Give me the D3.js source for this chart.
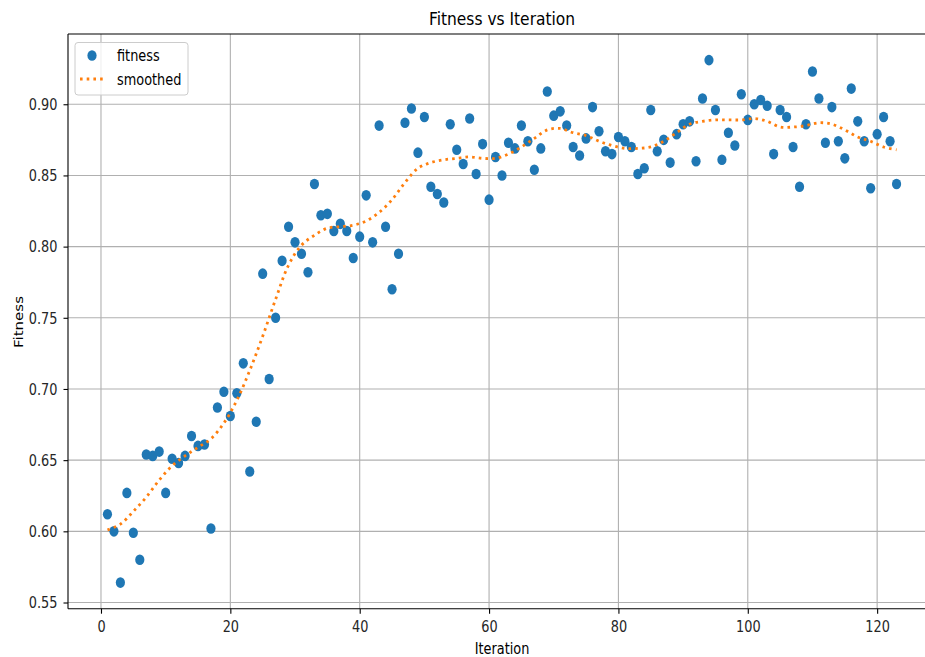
<!DOCTYPE html>
<html>
<head>
<meta charset="utf-8">
<script src="https://cdn.jsdelivr.net/npm/d3@7"></script>
<style>
  body { margin: 0; background: #fff; }
  svg { display: block; font-family: "DejaVu Sans", sans-serif; }
</style>
</head>
<body>
<svg width="925" height="657"></svg>
<script>
// fitness per iteration, iteration = index + 1
const fitness = [
  0.612, 0.600, 0.564, 0.627, 0.599, 0.580, 0.654, 0.653, 0.656, 0.627,
  0.651, 0.648, 0.653, 0.667, 0.660, 0.661, 0.602, 0.687, 0.698, 0.681,
  0.697, 0.718, 0.642, 0.677, 0.781, 0.707, 0.750, 0.790, 0.814, 0.803,
  0.795, 0.782, 0.844, 0.822, 0.823, 0.811, 0.816, 0.811, 0.792, 0.807,
  0.836, 0.803, 0.885, 0.814, 0.770, 0.795, 0.887, 0.897, 0.866, 0.891,
  0.842, 0.837, 0.831, 0.886, 0.868, 0.858, 0.890, 0.851, 0.872, 0.833,
  0.863, 0.850, 0.873, 0.869, 0.885, 0.874, 0.854, 0.869, 0.909, 0.892,
  0.895, 0.885, 0.870, 0.864, 0.876, 0.898, 0.881, 0.867, 0.865, 0.877,
  0.874, 0.870, 0.851, 0.855, 0.896, 0.867, 0.875, 0.859, 0.879, 0.886,
  0.888, 0.860, 0.904, 0.931, 0.896, 0.861, 0.880, 0.871, 0.907, 0.889,
  0.900, 0.903, 0.899, 0.865, 0.896, 0.891, 0.870, 0.842, 0.886, 0.923,
  0.904, 0.873, 0.898, 0.874, 0.862, 0.911, 0.888, 0.874, 0.841, 0.879,
  0.891, 0.874, 0.844
];

// smoothed curve, sampled at odd iterations
const smoothIter = [
  1, 3, 5, 7, 9, 11, 13, 15, 17, 19, 21, 23, 25, 27, 29, 31, 33, 35, 37, 39,
  41, 43, 45, 47, 49, 51, 53, 55, 57, 59, 61, 63, 65, 67, 69, 71, 73, 75, 77, 79,
  81, 83, 85, 87, 89, 91, 93, 95, 97, 99, 101, 103, 105, 107, 109, 111, 113, 115,
  117, 119, 121, 123
];
const smoothVals = [
  0.601, 0.605, 0.614, 0.624, 0.636, 0.646, 0.653, 0.659, 0.665, 0.676,
  0.692, 0.713, 0.737, 0.763, 0.787, 0.801, 0.808, 0.813, 0.814, 0.815,
  0.818, 0.824, 0.833, 0.845, 0.855, 0.859, 0.861, 0.862, 0.863, 0.862,
  0.862, 0.865, 0.870, 0.876, 0.882, 0.883, 0.880, 0.878, 0.874, 0.871,
  0.869, 0.869, 0.870, 0.874, 0.880, 0.886, 0.888, 0.889, 0.889, 0.889,
  0.890, 0.888, 0.884, 0.884, 0.885, 0.887, 0.886, 0.882, 0.877, 0.874,
  0.870, 0.868
];

const xTicks = [0, 20, 40, 60, 80, 100, 120];
const yTicks = [0.55, 0.60, 0.65, 0.70, 0.75, 0.80, 0.85, 0.90];

const svg = d3.select("svg");
const blue = "#1f77b4", orange = "#ff7f0e";
const sx = 0.86; // picture is squeezed horizontally, text too

const box = { left: 68, right: 936, top: 34, bottom: 608.7 };

const points = fitness.map((v, i) => ({ it: i + 1, v: v }));
const smooth = smoothIter.map((it, i) => ({ it: it, v: smoothVals[i] }));

// matplotlib style 5% margins
const xExt = d3.extent(points, d => d.it);
const yExt = d3.extent(points, d => d.v);
const xPad = (xExt[1] - xExt[0]) * 0.05, yPad = (yExt[1] - yExt[0]) * 0.05;

const x = d3.scaleLinear()
  .domain([xExt[0] - xPad, xExt[1] + xPad])
  .range([box.left, box.right]);
const y = d3.scaleLinear()
  .domain([yExt[0] - yPad, yExt[1] + yPad])
  .range([box.bottom, box.top]);

// grid
const grid = svg.append("g").attr("stroke", "#b0b0b0").attr("stroke-width", 1.1);
grid.selectAll("line.gx").data(xTicks).enter().append("line")
  .attr("x1", d => x(d)).attr("x2", d => x(d))
  .attr("y1", box.top).attr("y2", box.bottom);
grid.selectAll("line.gy").data(yTicks).enter().append("line")
  .attr("x1", box.left).attr("x2", box.right)
  .attr("y1", d => y(d)).attr("y2", d => y(d));

// axes
const xAxis = svg.append("g")
  .attr("transform", `translate(0,${box.bottom})`)
  .call(d3.axisBottom(x).tickValues(xTicks).tickFormat(d3.format("d")).tickSize(5).tickPadding(4));
const yAxis = svg.append("g")
  .attr("transform", `translate(${box.left},0)`)
  .call(d3.axisLeft(y).tickValues(yTicks).tickFormat(d3.format(".2f")).tickSize(4.5).tickPadding(5));

[xAxis, yAxis].forEach(a => {
  a.select(".domain").remove();
  a.selectAll(".tick line").attr("stroke", "#000").attr("stroke-width", 1.1);
  a.selectAll(".tick text")
    .attr("fill", "#262626")
    .style("font-size", "15px")
    .style("font-family", "DejaVu Sans");
});
xAxis.selectAll(".tick text").attr("dy", null).attr("y", 23.5)
  .attr("transform", `scale(${sx},1)`);
yAxis.selectAll(".tick text").attr("dy", null).attr("y", 5.3)
  .attr("x", -10.5 / sx)
  .attr("transform", `scale(${sx},1)`);

// data layers
const plot = svg.append("g");
plot.selectAll("ellipse.pt").data(points).enter().append("ellipse")
  .attr("class", "pt")
  .attr("cx", d => x(d.it)).attr("cy", d => y(d.v))
  .attr("rx", 4.6).attr("ry", 5.3)
  .attr("fill", blue);

const line = d3.line()
  .curve(d3.curveCatmullRom)
  .x(d => x(d.it))
  .y(d => y(d.v));
plot.append("path")
  .datum(smooth)
  .attr("d", line)
  .attr("fill", "none")
  .attr("stroke", orange)
  .attr("stroke-width", 2.8)
  .attr("stroke-dasharray", "2.6,4.1");

// spines: left, bottom, top (right one falls off the canvas)
const spines = svg.append("g").attr("stroke", "#000").attr("stroke-width", 1.1);
spines.append("line").attr("x1", box.left).attr("x2", box.left).attr("y1", box.top).attr("y2", box.bottom);
spines.append("line").attr("x1", box.left).attr("x2", box.right).attr("y1", box.bottom).attr("y2", box.bottom);
spines.append("line").attr("x1", box.left).attr("x2", box.right).attr("y1", box.top).attr("y2", box.top);
spines.append("line").attr("x1", box.right).attr("x2", box.right).attr("y1", box.top).attr("y2", box.bottom);

// text helper with horizontal squeeze
function label(px, py, str, size, rotate) {
  const g = svg.append("g")
    .attr("transform", `translate(${px},${py}) scale(${sx},1)` + (rotate ? " rotate(-90)" : ""));
  return g.append("text")
    .attr("text-anchor", "middle")
    .attr("fill", "#000")
    .style("font-size", size + "px")
    .text(str);
}

const midX = (box.left + box.right) / 2;
label(midX, 25, "Fitness vs Iteration", 18);
label(midX, 654, "Iteration", 15);
label(23, 322, "Fitness", 15, true);

// legend
const lg = svg.append("g");
lg.append("rect")
  .attr("x", 75).attr("y", 42.5).attr("width", 113).attr("height", 52.5)
  .attr("rx", 3).attr("fill", "#fff").attr("fill-opacity", 0.8)
  .attr("stroke", "#cccccc").attr("stroke-width", 1);
lg.append("ellipse").attr("cx", 92).attr("cy", 55.5).attr("rx", 4.6).attr("ry", 5.3).attr("fill", blue);
lg.append("line").attr("x1", 80).attr("x2", 104).attr("y1", 79).attr("y2", 79)
  .attr("stroke", orange).attr("stroke-width", 2.8).attr("stroke-dasharray", "2.6,4.1");
label(117, 61.3, "fitness", 15).attr("text-anchor", "start");
label(117, 84.8, "smoothed", 15).attr("text-anchor", "start");
</script>
</body>
</html>
